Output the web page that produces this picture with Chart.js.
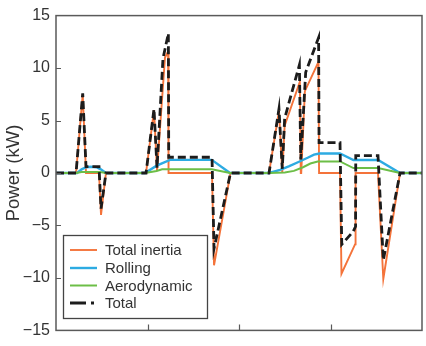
<!DOCTYPE html>
<html>
<head>
<meta charset="utf-8">
<script src="https://cdn.jsdelivr.net/npm/chart.js@4.4.1/dist/chart.umd.min.js"></script>
<style>
  html, body { margin: 0; padding: 0; background: #ffffff; }
  #wrap { width: 426px; height: 346px; }
</style>
</head>
<body>
<div id="wrap"><canvas id="chart" width="426" height="346"></canvas></div>
<script>
// Power demand components over a drive cycle (time in s, power in kW)
const seriesNames = ['Total inertia', 'Rolling', 'Aerodynamic', 'Total'];

const inertiaTime  = [0, 21.9, 29.2, 32.8, 47.0, 49.2, 54.6, 98.4, 107.1, 110.4, 119.1, 122.5, 123.0, 170.5, 172.7, 190.7,
                      232.8, 243.7, 247.3, 249.9, 266.5, 267.5, 268.0, 272.0, 286.9, 287.5, 310.4, 312.0, 326.8, 327.4,
                      351.9, 357.7, 376.0, 400];
const inertiaPower = [0, 0, 7.5, 0, 0, -4.0, 0, 0, 6.0, 0.2, 11.0, 11.6, 0, 0, -8.8, 0,
                      0, 5.9, 0, 4.5, 8.7, 0, 0, 7.8, 10.6, 0, 0, -9.6, -6.8, 0,
                      0, -10.1, 0, 0];

const rollingTime  = [0, 23, 28, 33, 38, 44, 49, 54.6, 97.3, 110, 124.6, 170.2, 190.2,
                      232.8, 245, 255, 265, 275, 282, 288, 310.4, 325, 352, 376, 400];
const rollingPower = [0, 0, 0.35, 0.55, 0.6, 0.55, 0.35, 0, 0, 0.7, 1.25, 1.25, 0,
                      0, 0.3, 0.65, 1.05, 1.45, 1.75, 1.86, 1.86, 1.24, 1.24, 0, 0];

const aeroTime  = [0, 22, 28, 48, 54.6, 97.3, 110, 116, 170.2, 190.2,
                   232.8, 250, 260, 270, 278, 286, 310.4, 325, 352, 376, 400];
const aeroPower = [0, 0, 0.1, 0.1, 0, 0, 0.2, 0.35, 0.35, 0,
                   0, 0.05, 0.2, 0.55, 0.9, 1.1, 1.1, 0.47, 0.47, 0, 0];

const totalTime  = [0, 21.9, 29.2, 32.8, 47.0, 49.2, 54.6, 98.4, 107.1, 110.4, 116.9, 122.8, 123.2, 170.5, 172.7, 190.7,
                    232.8, 243.7, 247.3, 249.9, 266.0, 267.5, 272.9, 287.0, 287.5, 310.4, 312.3, 324.6, 327.4, 327.6,
                    351.9, 357.7, 376.0, 400];
const totalPower = [0, 0, 7.6, 0.6, 0.6, -3.4, 0, 0, 6.1, 0.5, 10.9, 13.3, 1.5, 1.5, -7.2, 0,
                    0, 6.1, 0.4, 5.2, 10.3, 1.3, 9.6, 12.9, 2.9, 2.9, -6.8, -5.6, -5.1, 1.65,
                    1.65, -8.3, 0, 0];

const yTicks = [-15, -10, -5, 0, 5, 10, 15];
const xTicks = [0, 100, 200, 300, 400];

const toPoints = (t, p) => t.map((x, i) => ({ x: x, y: p[i] }));

const FONT = '"Liberation Sans", Arial, Helvetica, sans-serif';

// Axes box with inward tick marks
const framePlugin = {
  id: 'frame',
  afterDraw(chart) {
    const { ctx, chartArea: a, scales } = chart;
    ctx.save();
    ctx.strokeStyle = '#5a5a5a';
    ctx.lineWidth = 1.5;
    ctx.strokeRect(a.left, a.top, a.right - a.left, a.bottom - a.top);
    ctx.beginPath();
    xTicks.slice(1, -1).forEach(v => {
      const px = Math.round(scales.x.getPixelForValue(v)) + 0.5;
      ctx.moveTo(px, a.bottom);
      ctx.lineTo(px, a.bottom - 6);
    });
    yTicks.slice(1, -1).forEach(v => {
      const py = Math.round(scales.y.getPixelForValue(v)) + 0.5;
      ctx.moveTo(a.left, py);
      ctx.lineTo(a.left + 5, py);
    });
    ctx.lineWidth = 1.2;
    ctx.stroke();
    ctx.restore();
  }
};

// Boxed legend in the lower-left corner of the plot
const boxLegendPlugin = {
  id: 'boxLegend',
  afterDraw(chart) {
    const { ctx } = chart;
    const x0 = 63, y0 = 235, w = 144, h = 83;
    ctx.save();
    ctx.fillStyle = '#ffffff';
    ctx.fillRect(x0, y0, w, h);
    ctx.strokeStyle = '#444444';
    ctx.lineWidth = 1.3;
    ctx.strokeRect(x0 + 0.5, y0 + 0.5, w, h);
    const rows = [250, 268, 285.5, 303];
    ctx.font = '15px ' + FONT;
    ctx.textBaseline = 'middle';
    chart.data.datasets.forEach((ds, i) => {
      const y = rows[i];
      ctx.beginPath();
      ctx.strokeStyle = ds.borderColor;
      ctx.lineWidth = ds.borderWidth;
      ctx.setLineDash(i === 3 ? [16, 5, 3, 20] : []);
      ctx.moveTo(70, y);
      ctx.lineTo(97, y);
      ctx.stroke();
      ctx.setLineDash([]);
      ctx.fillStyle = '#333333';
      ctx.fillText(ds.label, 105, y + 1);
    });
    ctx.restore();
  }
};

new Chart(document.getElementById('chart'), {
  type: 'line',
  data: {
    datasets: [
      { label: seriesNames[0], data: toPoints(inertiaTime, inertiaPower), borderColor: '#F4733A', borderWidth: 1.9, order: 3 },
      { label: seriesNames[1], data: toPoints(rollingTime, rollingPower), borderColor: '#2DABE2', borderWidth: 2.4, order: 2 },
      { label: seriesNames[2], data: toPoints(aeroTime, aeroPower), borderColor: '#6CBE47', borderWidth: 2.0, order: 1 },
      { label: seriesNames[3], data: toPoints(totalTime, totalPower), borderColor: '#1c1c1c', borderWidth: 2.8,
        borderDash: [8, 4], order: 0 }
    ]
  },
  options: {
    responsive: false,
    animation: false,
    devicePixelRatio: 1,
    layout: { padding: { left: 0, right: 4, top: 14, bottom: 10 } },
    elements: {
      point: { radius: 0, hoverRadius: 0 },
      line: { tension: 0, fill: false, borderCapStyle: 'butt', borderJoinStyle: 'miter' }
    },
    plugins: {
      legend: { display: false },
      tooltip: { enabled: false }
    },
    scales: {
      x: {
        type: 'linear',
        min: 0,
        max: 400,
        ticks: { display: false, stepSize: 100 },
        grid: { display: false, drawTicks: false },
        border: { display: false },
        afterFit(s) { s.height = 0; }
      },
      y: {
        type: 'linear',
        min: -15,
        max: 15,
        afterBuildTicks(s) { s.ticks = yTicks.map(v => ({ value: v })); },
        ticks: {
          color: '#333333',
          font: { family: FONT, size: 16 },
          padding: 6,
          callback: v => (v < 0 ? '\u2212' + Math.abs(v) : String(v))
        },
        grid: { display: false, drawTicks: false },
        border: { display: false },
        title: { display: true, text: 'Power (kW)', color: '#333333', font: { family: FONT, size: 18.5 }, padding: { top: 3, bottom: 0 } },
        afterFit(s) { s.width = 56; }
      }
    }
  },
  plugins: [framePlugin, boxLegendPlugin]
});
</script>
</body>
</html>
